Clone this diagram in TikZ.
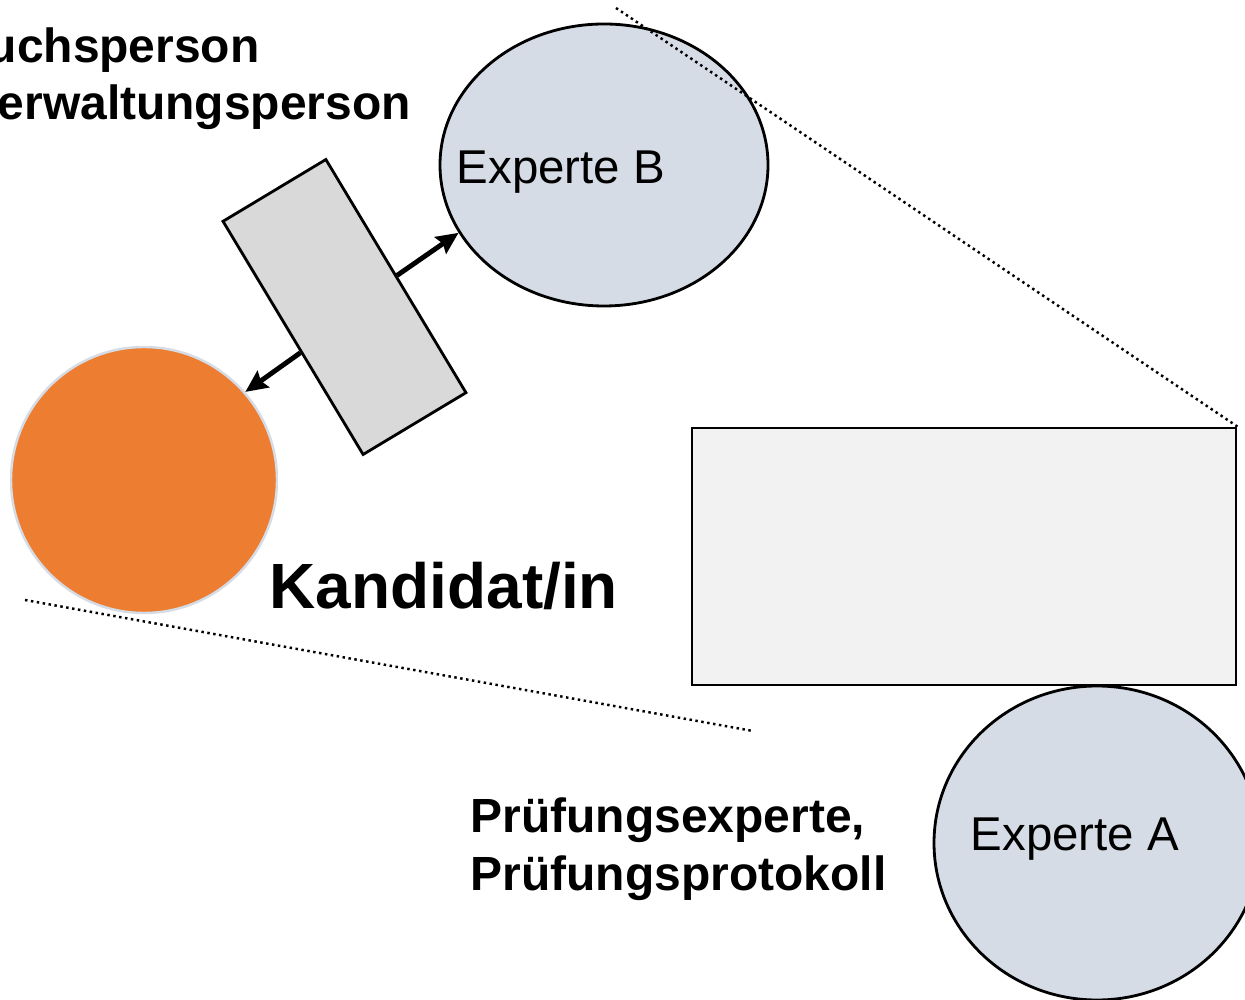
\documentclass[tikz,border=0pt]{standalone}
\usepackage{fontspec}
\setmainfont{Liberation Sans}
\usepackage{tikz}
\usetikzlibrary{positioning}
\usetikzlibrary{shapes.geometric}
\usetikzlibrary{arrows.meta}
\usetikzlibrary{calc}
\definecolor{expertColor}{HTML}{D6DCE5}
\definecolor{candidateColor}{HTML}{ED7D31}
\definecolor{deskColor}{HTML}{D9D9D9}
\definecolor{boardColor}{HTML}{F2F2F2}

\begin{document}
\begin{tikzpicture}

          \tikzstyle{expertNode} = [ellipse, draw=black, line width=0.8pt, fill=expertColor, inner sep=0pt];
          \tikzstyle{candidateNode} = [circle, draw=expertColor, line width=0.7pt, fill=candidateColor, inner sep=0pt, minimum size=2.66cm];
          \tikzstyle{deskNode} = [rectangle, draw=black, line width=0.8pt, fill=deskColor, inner sep=0pt];
          \tikzstyle{boardNode} = [rectangle, draw=black, line width=0.8pt, fill=boardColor, inner sep=0pt];
          \tikzstyle{plainText} = [inner sep=0pt, font=\fontsize{13.5pt}{16.4pt}\selectfont];
          \tikzstyle{boldText} = [inner sep=0pt, align=left, font=\fontsize{13.65pt}{16.4pt}\selectfont\bfseries];
          \tikzstyle{bigText} = [inner sep=0pt, font=\fontsize{18.2pt}{21pt}\selectfont\bfseries];

          \tikzstyle{arrowEdge} = [line width=1.4pt, -{Stealth[length=0.22cm, width=0.2cm, inset=0.03cm]}];
          \tikzstyle{dotEdge} = [line width=0.7pt, densely dotted];

          \useasboundingbox (0,0) rectangle (12.45,-10);

          \node[expertNode, minimum width=3.28cm, minimum height=2.82cm] (expB) at (6.04,-1.65) {};
          \node[plainText, anchor=base west] (expBText) at (4.56,-1.84) {Experte B};
          \node[candidateNode] (kand) at (1.44,-4.80) {};
          \node[deskNode, rotate=31, minimum width=1.20cm, minimum height=2.72cm] (desk) at (3.445,-3.07) {};
          \node[boardNode, minimum width=5.44cm, minimum height=2.57cm] (board) at (9.64,-5.565) {};
          \node[expertNode, minimum width=3.26cm, minimum height=3.14cm] (expA) at (10.97,-8.43) {};
          \node[plainText, anchor=base west] (expAText) at (9.70,-8.50) {Experte A};

          \node[boldText, anchor=base west] (staff) at (-0.03,-1.20) {\hspace*{-0.1cm}uchsperson\\erwaltungsperson};
          \node[bigText, anchor=base west] (kandText) at (2.69,-6.08) {Kandidat/in};
          \node[boldText, anchor=base west] (protocol) at (4.70,-8.90) {Prüfungsexperte,\\Prüfungsprotokoll};

          \coordinate (viewTop) at (6.16,-0.08);
          \coordinate (viewLeft) at (0.25,-6.00);
          \coordinate (viewBottom) at (7.53,-7.31);

          \draw[arrowEdge] (desk.east) -- (expB.205);
          \draw[arrowEdge] ($(desk.west)!0.12!(desk.south west)$) -- (kand.41);
          \draw[dotEdge] (viewTop) -- (board.north east);
          \draw[dotEdge] (viewLeft) -- (viewBottom);
        \end{tikzpicture}
\end{document}
